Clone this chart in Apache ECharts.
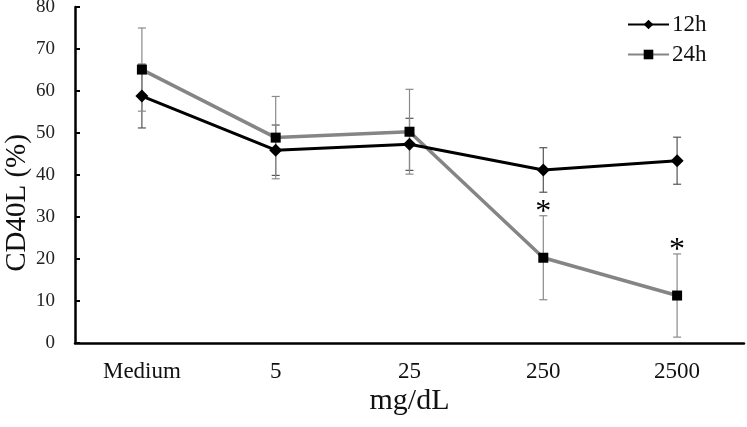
<!DOCTYPE html>
<html>
<head>
<meta charset="utf-8">
<script src="https://cdn.jsdelivr.net/npm/echarts@6/dist/echarts.min.js"></script>
<style>
html,body{margin:0;padding:0;background:#fff;}
#chart{width:747px;height:427px;}
</style>
</head>
<body>
<div id="chart"></div>
<script>
var categories = ['Medium', '5', '25', '250', '2500'];
var h12 = [58.8, 45.9, 47.3, 41.2, 43.4];
var h12err = [7.6, 6.0, 6.2, 5.3, 5.6];
var h24 = [65.1, 48.9, 50.3, 20.3, 11.3];
var h24err = [9.9, 9.8, 10.1, 10.0, 9.9];
var sig24 = ['', '', '', '*', '*'];
var yTicks = [0, 10, 20, 30, 40, 50, 60, 70, 80];

var FONT = '"Liberation Serif", "Times New Roman", serif';

function errData(vals, errs, sig) {
  return vals.map(function (v, i) { return [i, v - errs[i], v + errs[i], sig ? sig[i] : '']; });
}

function errRender(color) {
  return function (params, api) {
    var i = api.value(0);
    var lo = api.coord([i, api.value(1)]);
    var hi = api.coord([i, api.value(2)]);
    var w = 4;
    var st = { stroke: color, lineWidth: 1.2 };
    var children = [
      { type: 'line', shape: { x1: hi[0], y1: hi[1], x2: lo[0], y2: lo[1] }, style: st },
      { type: 'line', shape: { x1: hi[0] - w, y1: hi[1], x2: hi[0] + w, y2: hi[1] }, style: st },
      { type: 'line', shape: { x1: lo[0] - w, y1: lo[1], x2: lo[0] + w, y2: lo[1] }, style: st }
    ];
    var s = api.value(3);
    if (s) {
      children.push({
        type: 'text',
        style: { text: s, x: hi[0], y: hi[1] - 3, align: 'center', verticalAlign: 'middle',
                 font: '32px ' + FONT, fill: '#000' }
      });
    }
    return { type: 'group', children: children };
  };
}

var chart = echarts.init(document.getElementById('chart'));
chart.setOption({
  animation: false,
  backgroundColor: '#fff',
  grid: { left: 75, right: 3, top: 7, bottom: 84, containLabel: false, outerBoundsMode: 'none' },
  legend: {
    orient: 'vertical',
    left: 622,
    top: 8,
    itemWidth: 41,
    itemHeight: 12,
    itemGap: 7,
    textStyle: { fontFamily: FONT, fontSize: 23, color: '#111', padding: [0, 0, 0, -2] },
    data: ['12h', '24h']
  },
  xAxis: {
    type: 'category',
    data: categories,
    boundaryGap: true,
    name: 'mg/dL',
    nameLocation: 'middle',
    nameGap: 58,
    nameMoveOverlap: false,
    nameTextStyle: { fontFamily: FONT, fontSize: 30, color: '#111', verticalAlign: 'middle' },
    axisLine: { lineStyle: { color: '#000', width: 2.5 } },
    axisTick: { inside: true, length: 6, lineStyle: { color: '#000', width: 2 } },
    axisLabel: { fontFamily: FONT, fontSize: 23, color: '#111', margin: 17 },
    splitLine: { show: false }
  },
  yAxis: {
    type: 'value',
    min: yTicks[0],
    max: yTicks[yTicks.length - 1],
    interval: 10,
    name: 'CD40L (%)',
    nameLocation: 'middle',
    nameGap: 58,
    nameRotate: 90,
    nameMoveOverlap: false,
    nameTextStyle: { fontFamily: FONT, fontSize: 29, color: '#111', verticalAlign: 'middle', padding: [0, 56, 0, 0] },
    axisLine: { show: true, lineStyle: { color: '#000', width: 2.5 } },
    axisTick: { show: true, inside: true, length: 5, lineStyle: { color: '#000', width: 2 } },
    axisLabel: { fontFamily: FONT, fontSize: 19, color: '#222', margin: 20 },
    splitLine: { show: false }
  },
  series: [
    {
      name: '12h-err', type: 'custom', renderItem: errRender('#555'),
      data: errData(h12, h12err), z: 1, silent: true,
      encode: { x: 0, y: [1, 2] }
    },
    {
      name: '24h-err', type: 'custom', renderItem: errRender('#8a8a8a'),
      data: errData(h24, h24err, sig24), z: 1, silent: true,
      encode: { x: 0, y: [1, 2] }
    },
    {
      name: '12h', type: 'line', data: h12,
      symbol: 'diamond', symbolSize: 13,
      itemStyle: { color: '#000' },
      lineStyle: { color: '#000', width: 3 },
      z: 3
    },
    {
      name: '24h', type: 'line', data: h24,
      symbol: 'rect', symbolSize: 10,
      itemStyle: { color: '#000' },
      lineStyle: { color: '#858585', width: 3.5 },
      z: 2
    }
  ]
});
</script>
</body>
</html>
